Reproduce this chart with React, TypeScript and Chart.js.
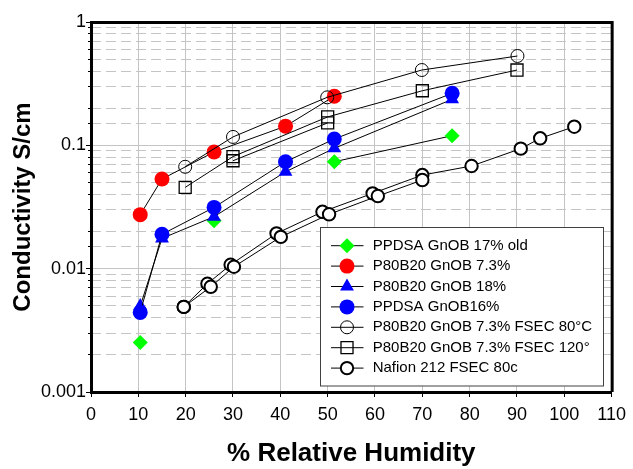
import React, { useEffect, useRef } from 'react';
import { Chart, registerables } from 'chart.js';
import { drawPoint } from 'chart.js/helpers';

Chart.register(...registerables);

// ---- data ----
const ppdsa17X = [10.4, 26.0, 51.4, 76.3];
const ppdsa17Y = [0.00252, 0.0245, 0.0736, 0.1197];

const p80b20_73X = [10.4, 15.0, 26.0, 41.1, 51.4];
const p80b20_73Y = [0.0274, 0.0533, 0.0883, 0.143, 0.25];

const p80b20_18X = [10.4, 15.0, 26.0, 41.1, 51.4, 76.3];
const p80b20_18Y = [0.00497, 0.0176, 0.0264, 0.061, 0.0946, 0.236];

const ppdsa16X = [10.4, 15.0, 26.0, 41.1, 51.4, 76.3];
const ppdsa16Y = [0.00442, 0.019, 0.0314, 0.0736, 0.1125, 0.264];

const fsec80X = [19.9, 30.0, 49.9, 69.9, 90.1];
const fsec80Y = [0.067, 0.117, 0.245, 0.408, 0.53];

const fsec120X = [19.9, 30.0, 50.0, 70.0, 90.0];
const fsec120Y = [0.0456, 0.081, 0.17, 0.277, 0.408];
const fsec120RepeatX = [30.0, 50.0];
const fsec120RepeatY = [0.075, 0.152];

const nafionX = [19.6, 24.6, 29.5, 39.2, 48.9, 59.5, 70.0, 80.4, 90.8, 94.9, 102.1];
const nafionY = [0.0049, 0.00755, 0.01076, 0.0193, 0.0289, 0.0408, 0.0574, 0.068, 0.094, 0.114, 0.1416];
const nafionRepeatX = [19.6, 25.3, 30.2, 40.1, 50.3, 60.6, 70.0];
const nafionRepeatY = [0.0049, 0.00713, 0.01036, 0.0181, 0.0276, 0.0388, 0.0523];

const xMin = 0;
const xMax = 110;
const xStep = 10;
const yMin = 0.001;
const yMax = 1;

const seriesLabels = [
  'PPDSA GnOB 17% old',
  'P80B20 GnOB 7.3%',
  'P80B20 GnOB 18%',
  'PPDSA GnOB16%',
  'P80B20 GnOB 7.3% FSEC 80°C',
  'P80B20 GnOB 7.3% FSEC 120°',
  'Nafion 212 FSEC 80c',
];

const xTitle = '% Relative Humidity';
const yTitle = 'Conductivity S/cm';

const pts = (xs: number[], ys: number[]) => xs.map((x, i) => ({ x, y: ys[i] }));

const isDecade = (v: any) => {
  if (typeof v !== 'number' || v <= 0) return false;
  const l = Math.log10(v);
  return Math.abs(l - Math.round(l)) < 1e-6;
};

const TRANSPARENT = 'rgba(0,0,0,0)';
const GRID = '#c4c4c4';
const FONT = "'Liberation Sans', Arial, sans-serif";

const framePlugin = {
  id: 'frame',
  afterDatasetsDraw(chart: any) {
    const { ctx, chartArea } = chart;
    ctx.save();
    ctx.strokeStyle = '#000';
    ctx.lineWidth = 3;
    ctx.beginPath();
    ctx.moveTo(chartArea.left, chartArea.top + 0.5);
    ctx.lineTo(chartArea.right + 0.5, chartArea.top + 0.5);
    ctx.lineTo(chartArea.right + 0.5, chartArea.bottom);
    ctx.stroke();
    ctx.restore();
  },
};

const legendPlugin = {
  id: 'boxLegend',
  afterDraw(chart: any) {
    const { ctx } = chart;
    const boxL = 320.5;
    const boxT = 227.5;
    const boxW = 283;
    const boxH = 158.5;
    ctx.save();
    ctx.fillStyle = '#fff';
    ctx.fillRect(boxL, boxT, boxW, boxH);
    ctx.strokeStyle = '#404040';
    ctx.lineWidth = 1;
    ctx.strokeRect(boxL, boxT, boxW, boxH);
    const rowY0 = 245.7;
    const rowStep = 20.4;
    const items = chart.data.datasets.filter((d: any) => d.inLegend);
    items.forEach((d: any, i: number) => {
      const y = rowY0 + i * rowStep;
      ctx.strokeStyle = '#000';
      ctx.lineWidth = 1;
      ctx.beginPath();
      ctx.moveTo(331, y);
      ctx.lineTo(363.5, y);
      ctx.stroke();
      ctx.fillStyle = d.pointBackgroundColor;
      ctx.strokeStyle = d.pointBorderColor;
      ctx.lineWidth = d.pointBorderWidth;
      drawPoint(ctx, { pointStyle: d.pointStyle, radius: d.pointRadius, rotation: 0, borderWidth: d.pointBorderWidth }, 347, y);
      ctx.fillStyle = '#000';
      ctx.font = `15px ${FONT}`;
      ctx.textBaseline = 'middle';
      ctx.textAlign = 'left';
      ctx.fillText(d.label, 372.7, y);
    });
    ctx.restore();
  },
};

export default function App() {
  const ref = useRef<HTMLCanvasElement | null>(null);

  useEffect(() => {
    if (!ref.current) return;
    Chart.defaults.font.family = FONT;
    Chart.defaults.color = '#000';

    const base = {
      showLine: true,
      borderColor: '#000',
      borderWidth: 1,
      tension: 0,
      pointBorderColor: '#000',
    };

    const datasets: any[] = [
      {
        ...base,
        label: seriesLabels[0],
        inLegend: true,
        order: 7,
        data: pts(ppdsa17X, ppdsa17Y),
        pointStyle: 'rectRot',
        pointRadius: 7.5,
        pointBackgroundColor: '#00ff00',
        pointBorderColor: '#00ff00',
        pointBorderWidth: 0,
        segment: { borderColor: (c: any) => (c.p0DataIndex < 2 ? TRANSPARENT : '#000') },
      },
      {
        ...base,
        label: seriesLabels[1],
        inLegend: true,
        order: 4,
        data: pts(p80b20_73X, p80b20_73Y),
        pointStyle: 'circle',
        pointRadius: 7.5,
        pointBackgroundColor: '#ff0000',
        pointBorderColor: '#ff0000',
        pointBorderWidth: 0,
      },
      {
        ...base,
        label: seriesLabels[2],
        inLegend: true,
        order: 6,
        data: pts(p80b20_18X, p80b20_18Y),
        pointStyle: 'triangle',
        pointRadius: 8,
        pointBackgroundColor: '#0000ff',
        pointBorderColor: '#0000ff',
        pointBorderWidth: 0,
      },
      {
        ...base,
        label: seriesLabels[3],
        inLegend: true,
        order: 5,
        data: pts(ppdsa16X, ppdsa16Y),
        pointStyle: 'circle',
        pointRadius: 7.5,
        pointBackgroundColor: '#0000ff',
        pointBorderColor: '#0000ff',
        pointBorderWidth: 0,
      },
      {
        ...base,
        label: seriesLabels[4],
        inLegend: true,
        order: 0,
        data: pts(fsec80X, fsec80Y),
        pointStyle: 'circle',
        pointRadius: 6.5,
        pointBackgroundColor: TRANSPARENT,
        pointBorderWidth: 1,
      },
      {
        ...base,
        label: seriesLabels[5],
        inLegend: true,
        order: 1,
        data: pts(fsec120X, fsec120Y),
        pointStyle: 'rect',
        pointRadius: 8.5,
        pointBackgroundColor: TRANSPARENT,
        pointBorderWidth: 1.3,
      },
      {
        ...base,
        label: seriesLabels[6],
        inLegend: true,
        order: 3,
        data: pts(nafionX, nafionY),
        pointStyle: 'circle',
        pointRadius: 6.2,
        pointBackgroundColor: '#fff',
        pointBorderWidth: 2,
      },
      {
        ...base,
        label: seriesLabels[5] + ' (repeat)',
        inLegend: false,
        order: 1,
        data: pts(fsec120RepeatX, fsec120RepeatY),
        pointStyle: 'rect',
        pointRadius: 8.5,
        pointBackgroundColor: TRANSPARENT,
        pointBorderWidth: 1.3,
      },
      {
        ...base,
        label: seriesLabels[6] + ' (repeat)',
        inLegend: false,
        order: 2,
        data: pts(nafionRepeatX, nafionRepeatY),
        pointStyle: 'circle',
        pointRadius: 6.2,
        pointBackgroundColor: '#fff',
        pointBorderWidth: 2,
      },
    ];

    const chart = new Chart(ref.current, {
      type: 'scatter',
      data: { datasets },
      options: {
        responsive: false,
        animation: false,
        events: [],
        layout: { padding: { left: 0, top: 22, right: 16, bottom: 0 } },
        plugins: {
          legend: { display: false },
          tooltip: { enabled: false },
        },
        scales: {
          x: {
            type: 'linear',
            min: xMin,
            max: xMax,
            ticks: {
              stepSize: xStep,
              autoSkip: false,
              color: '#000',
              font: { size: 18 },
              padding: 7,
              maxRotation: 0,
            },
            grid: { color: GRID, lineWidth: 1, tickColor: '#000', tickLength: 5 },
            border: { color: '#000', width: 3 },
            title: {
              display: true,
              text: xTitle,
              color: '#000',
              font: { size: 26, weight: 'bold', lineHeight: 1.2 },
              padding: { top: 0, bottom: 0 },
            },
            afterFit: (s: any) => {
              s.height = 77;
            },
          },
          y: {
            type: 'logarithmic',
            position: 'left',
            weight: 1,
            min: yMin,
            max: yMax,
            ticks: {
              autoSkip: false,
              color: '#000',
              font: { size: 18 },
              padding: 0,
              callback: (v: any) => (isDecade(v) ? String(v) : ''),
            },
            grid: {
              color: (c: any) => (isDecade(c.tick && c.tick.value) ? GRID : TRANSPARENT),
              tickColor: (c: any) => (isDecade(c.tick && c.tick.value) ? '#000' : TRANSPARENT),
              tickLength: 5,
              lineWidth: 1,
            },
            border: { color: '#000', width: 3 },
            title: {
              display: true,
              text: yTitle,
              color: '#000',
              font: { size: 24, weight: 'bold', lineHeight: 1.2 },
              padding: { top: 8.6, bottom: 0 },
            },
            afterFit: (s: any) => {
              s.width = 91;
            },
          },
          y2: {
            type: 'logarithmic',
            position: 'left',
            weight: 0,
            min: yMin,
            max: yMax,
            ticks: { display: false, autoSkip: false },
            grid: {
              color: (c: any) => (c.tick && !isDecade(c.tick.value) ? GRID : TRANSPARENT),
              tickColor: (c: any) => (c.tick && !isDecade(c.tick.value) ? '#000' : TRANSPARENT),
              tickLength: 3,
              lineWidth: 1,
              borderDash: [10, 5],
            },
            border: { display: false, dash: [10, 5] },
            afterFit: (s: any) => {
              s.width = 0;
            },
          },
        },
      } as any,
      plugins: [framePlugin, legendPlugin],
    });

    return () => chart.destroy();
  }, []);

  return (
    <div style={{ position: 'absolute', left: 0, top: 0, width: 633, height: 469, background: '#fff' }}>
      <canvas ref={ref} width={633} height={469} style={{ display: 'block' }} />
    </div>
  );
}
